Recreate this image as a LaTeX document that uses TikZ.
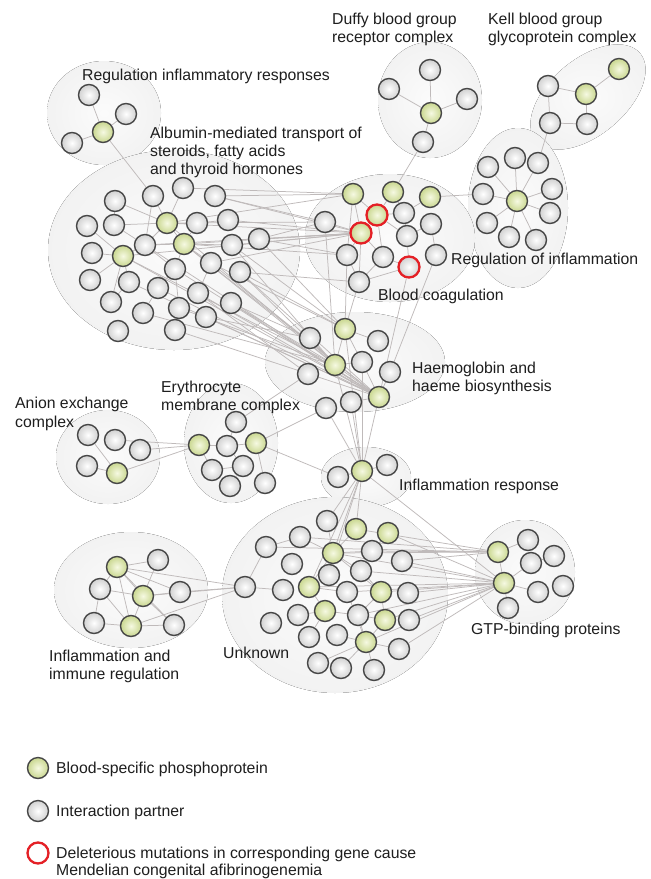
\documentclass[tikz,border=0pt]{standalone}
\usepackage{fontspec}
\setmainfont{Liberation Sans}
\pgfdeclarelayer{blobs}
\pgfdeclarelayer{edges}
\pgfsetlayers{blobs,edges,main}
\definecolor{outl}{HTML}{474747}
\definecolor{edgec}{HTML}{BFBABA}
\definecolor{greenin}{HTML}{F6F9E2}
\definecolor{greenout}{HTML}{C9D78F}
\definecolor{redc}{HTML}{E42026}
\definecolor{txt}{HTML}{1E1E1E}
\tikzset{
 pn/.style={circle, minimum size=21pt, inner sep=0pt, draw=outl, line width=1.4pt, inner color=white, outer color=gray!36},
 gn/.style={pn, inner color=greenin, outer color=greenout},
 rn/.style={draw=redc, line width=2.3pt},
 edge/.style={draw=edgec, line width=0.75pt},
 blob/.style={inner color=gray!3, outer color=gray!10},
 lab/.style={anchor=base west, inner sep=0pt, text=txt, font=\fontsize{15.8}{18}\selectfont},
}
\begin{document}
\begin{tikzpicture}[x=1pt,y=-1pt]
\useasboundingbox (0,0) rectangle (651,879);
% ---------- background and blobs
\begin{pgfonlayer}{blobs}
\fill[white] (0,0) rectangle (651,879);
\fill[blob] (104,113) ellipse [x radius=57pt, y radius=52pt];
\fill[blob] (174,250) ellipse [x radius=126pt, y radius=100pt];
\fill[blob] (430,100) ellipse [x radius=52pt, y radius=58pt];
\fill[blob, rotate around={40:(588,97)}] (588,97) ellipse [x radius=68pt, y radius=38pt];
\fill[blob] (518,208) ellipse [x radius=50pt, y radius=80pt];
\fill[blob] (390,238) ellipse [x radius=85pt, y radius=64pt];
\fill[blob] (355,362) ellipse [x radius=90pt, y radius=50pt];
\fill[blob] (108,457) ellipse [x radius=52pt, y radius=47pt];
\fill[blob] (231,443) ellipse [x radius=47pt, y radius=60pt];
\fill[blob] (366,477) ellipse [x radius=45pt, y radius=30pt];
\fill[blob] (131,590) ellipse [x radius=77pt, y radius=58pt];
\fill[blob] (335,595) ellipse [x radius=113pt, y radius=98pt];
\fill[blob] (525,572) ellipse [x radius=50pt, y radius=52pt];
\end{pgfonlayer}
% ---------- Regulation inflammatory responses
\node[pn] (r1) at (89,95) {};
\node[pn] (r2) at (126,114) {};
\node[gn] (rg) at (103,132) {};
\node[pn] (r3) at (72,143) {};
% ---------- Duffy
\node[pn] (d1) at (430,70) {};
\node[pn] (d2) at (389,89) {};
\node[pn] (d3) at (467,99) {};
\node[gn] (dg) at (431,113) {};
\node[pn] (d4) at (423,142) {};
% ---------- Kell
\node[gn] (kg1) at (619,69) {};
\node[pn] (k1) at (548,86) {};
\node[gn] (kg2) at (586,94) {};
\node[pn] (k2) at (550,123) {};
\node[pn] (k3) at (587,124) {};
% ---------- Regulation of inflammation
\node[pn] (i1) at (488,167) {};
\node[pn] (i2) at (515,158) {};
\node[pn] (i3) at (538,163) {};
\node[pn] (i4) at (552,189) {};
\node[pn] (i5) at (483,194) {};
\node[gn] (ig) at (517,201) {};
\node[pn] (i6) at (550,213) {};
\node[pn] (i7) at (487,223) {};
\node[pn] (i8) at (509,237) {};
\node[pn] (i9) at (536,240) {};
% ---------- Blood coagulation
\node[gn] (bg1) at (353,194) {};
\node[gn] (bg2) at (393,192) {};
\node[gn] (bg3) at (430,197) {};
\node[gn,rn] (br1) at (377,215) {};
\node[gn,rn] (br2) at (361,233) {};
\node[pn] (b1) at (325,222) {};
\node[pn] (b2) at (404,213) {};
\node[pn] (b3) at (431,224) {};
\node[pn] (b4) at (407,236) {};
\node[pn] (b5) at (347,255) {};
\node[pn] (b6) at (383,257) {};
\node[pn,rn] (bR) at (409,267) {};
\node[pn] (b7) at (436,255) {};
\node[pn] (b8) at (359,282) {};
% ---------- Haemoglobin
\node[gn] (hg1) at (345,329) {};
\node[pn] (h1) at (310,338) {};
\node[pn] (h2) at (378,341) {};
\node[gn] (hg2) at (335,365) {};
\node[pn] (h3) at (362,362) {};
\node[pn] (h4) at (390,372) {};
\node[pn] (h5) at (308,374) {};
\node[gn] (hg3) at (379,397) {};
\node[pn] (h6) at (351,402) {};
\node[pn] (h7) at (326,408) {};
% ---------- Albumin
\node[pn] (a1) at (115,201) {};
\node[pn] (a2) at (153,196) {};
\node[pn] (a3) at (183,188) {};
\node[pn] (a4) at (215,196) {};
\node[pn] (a5) at (87,226) {};
\node[pn] (a6) at (114,225) {};
\node[gn] (ag1) at (167,223) {};
\node[pn] (a7) at (197,223) {};
\node[pn] (a8) at (228,220) {};
\node[pn] (a9) at (92,253) {};
\node[gn] (ag2) at (123,256) {};
\node[pn] (a10) at (145,245) {};
\node[gn] (ag3) at (184,244) {};
\node[pn] (a11) at (232,245) {};
\node[pn] (a12) at (259,239) {};
\node[pn] (a13) at (90,280) {};
\node[pn] (a14) at (129,282) {};
\node[pn] (a15) at (175,269) {};
\node[pn] (a16) at (211,263) {};
\node[pn] (a17) at (240,272) {};
\node[pn] (a18) at (111,302) {};
\node[pn] (a19) at (158,288) {};
\node[pn] (a20) at (198,293) {};
\node[pn] (a21) at (231,303) {};
\node[pn] (a22) at (143,313) {};
\node[pn] (a23) at (179,308) {};
\node[pn] (a24) at (206,317) {};
\node[pn] (a25) at (118,331) {};
\node[pn] (a26) at (175,330) {};
% ---------- Anion exchange
\node[pn] (x1) at (88,435) {};
\node[pn] (x2) at (115,440) {};
\node[pn] (x3) at (140,450) {};
\node[pn] (x4) at (87,466) {};
\node[gn] (xg) at (117,473) {};
% ---------- Erythrocyte membrane
\node[pn] (e1) at (236,422) {};
\node[gn] (eg1) at (199,445) {};
\node[pn] (e2) at (227,446) {};
\node[gn] (eg2) at (256,443) {};
\node[pn] (e3) at (212,470) {};
\node[pn] (e4) at (243,466) {};
\node[pn] (e5) at (230,486) {};
\node[pn] (e6) at (265,483) {};
% ---------- Inflammation response
\node[pn] (ir1) at (338,477) {};
\node[gn] (irg) at (362,471) {};
\node[pn] (ir2) at (387,465) {};
% ---------- Inflammation and immune regulation
\node[gn] (mg1) at (117,567) {};
\node[pn] (m1) at (158,560) {};
\node[pn] (m2) at (100,589) {};
\node[gn] (mg2) at (143,596) {};
\node[pn] (m3) at (180,592) {};
\node[pn] (m4) at (94,623) {};
\node[gn] (mg3) at (131,626) {};
\node[pn] (m5) at (174,625) {};
% ---------- Unknown
\node[pn] (u0) at (245,587) {};
\node[pn] (u1) at (327,521) {};
\node[gn] (ug1) at (356,529) {};
\node[gn] (ug2) at (388,533) {};
\node[pn] (u2) at (300,537) {};
\node[pn] (u3) at (266,547) {};
\node[gn] (ug3) at (333,553) {};
\node[pn] (u4) at (372,551) {};
\node[pn] (u5) at (402,561) {};
\node[pn] (u6) at (292,564) {};
\node[pn] (u7) at (329,575) {};
\node[pn] (u8) at (361,571) {};
\node[pn] (u9) at (283,590) {};
\node[gn] (ug4) at (309,587) {};
\node[pn] (u10) at (347,592) {};
\node[gn] (ug5) at (381,592) {};
\node[pn] (u11) at (408,593) {};
\node[pn] (u12) at (298,615) {};
\node[gn] (ug6) at (325,611) {};
\node[pn] (u13) at (358,615) {};
\node[gn] (ug7) at (385,620) {};
\node[pn] (u14) at (409,620) {};
\node[pn] (u15) at (271,623) {};
\node[pn] (u16) at (309,637) {};
\node[pn] (u17) at (337,635) {};
\node[gn] (ug8) at (366,642) {};
\node[pn] (u18) at (399,649) {};
\node[pn] (u19) at (318,663) {};
\node[pn] (u20) at (341,668) {};
\node[pn] (u21) at (374,670) {};
% ---------- GTP-binding proteins
\node[gn] (tg1) at (498,552) {};
\node[pn] (t1) at (528,540) {};
\node[pn] (t2) at (554,556) {};
\node[pn] (t3) at (531,563) {};
\node[gn] (tg2) at (504,583) {};
\node[pn] (t4) at (538,592) {};
\node[pn] (t5) at (563,586) {};
\node[pn] (t6) at (508,608) {};
% ---------- edges
\begin{pgfonlayer}{edges}
\foreach \a/\b in {rg/r1,rg/r2,rg/r3,rg/a2,
 dg/d1,dg/d2,dg/d3,dg/d4,d4/bg2,
 kg2/kg1,k1/kg2,k1/k2,k2/k3,kg2/k3,k2/i3,
 ig/i1,ig/i2,ig/i3,ig/i4,ig/i5,ig/i6,ig/i7,ig/i8,ig/i9,i5/bg3,
 bg1/br2,bg1/br1,bg2/br1,bg2/b2,bg3/b2,b2/br1,b2/b4,b4/br1,b4/b3,b3/b7,b4/bR,b6/bR,
 br2/b5,br2/b6,br1/b6,b5/b8,b6/b8,b8/bR,b1/br2,bg1/b5,br2/b8,
 b8/hg1,bR/hg3,b7/h4,b5/hg1,b1/hg2,
 hg1/h3,hg1/hg2,hg1/h2,hg2/h3,h3/hg3,hg2/hg3,h1/hg2,h6/hg3,h4/hg3,
 e1/h5,eg2/h7,
 hg2/irg,hg1/irg,h6/irg,h7/irg,hg3/irg,h3/irg,
 ir1/irg,irg/ir2,eg2/ir1,
 irg/u1,irg/ug1,irg/ug3,irg/ug4,irg/u7,irg/tg2,
 x1/xg,x4/xg,x3/eg1,xg/eg1,x2/eg1,
 eg1/e2,e2/eg2,eg1/e3,e2/e1,e4/e2,eg2/e6,e3/e4,e4/e5,
 mg1/m1,mg1/m2,mg1/mg2,mg1/mg3,mg1/m3,mg1/m5,m2/m4,m4/mg3,mg3/mg2,mg3/m5,mg2/m3,mg2/m5,
 m1/mg2,m2/mg3,m2/mg2,mg1/u0,mg2/u0,mg3/u0,m3/u0,
 u3/u0,u0/u9,u2/ug3,ug3/u1,ug3/ug1,ug3/u4,ug3/u7,ug3/u8,ug3/ug5,ug4/ug6,ug4/u10,ug6/u12,
 ug6/u13,ug6/u16,ug5/ug7,ug7/u13,ug8/u17,ug8/u20,ug8/u21,ug8/u18,ug8/ug7,u19/ug8,ug4/u7,
 u3/u2,ug2/u4,u8/ug5,ug5/u13,ug8/u13,u10/ug8,ug3/ug4,
 u3/tg1,ug3/tg1,u4/tg1,u5/tg1,ug1/tg1,u2/tg1,ug3/tg2,u8/tg2,ug5/tg2,u11/tg2,ug7/tg2,
 u14/tg2,u18/tg2,ug8/tg2,u10/tg2,ug4/tg2,u13/tg2,ug2/tg2,u5/tg2,
 tg1/t1,tg1/tg2,t3/tg2,tg2/t4,tg2/t6,t3/t2,
 ag1/a2,ag1/a3,ag1/a6,ag1/a10,ag1/ag3,ag1/a7,ag2/a5,ag2/a9,ag2/a10,ag2/a14,ag2/a13,
 ag3/a10,ag3/a15,ag3/a16,ag3/a7,a10/a15,a15/a19,a19/a22,a14/a18,a6/a10,ag1/a1,a2/a10,
 ag2/a18,a15/a23,a16/a20,ag3/a11,a7/a8,a1/a6,
 ag1/br2,ag3/br2,a8/br2,a12/br2,a11/br2,a4/br2,a16/br2,ag1/b1,a4/b1,a12/b1,a3/bg1,
 ag1/bg1,a4/bg1,ag2/hg3,ag3/hg3,a15/hg3,a16/hg3,a17/hg3,a20/hg3,a21/hg3,a24/hg3,
 a19/hg3,a10/hg3,ag1/hg2,ag3/hg2,a17/hg2,a11/hg2,a21/hg2,a12/hg1,a11/hg1,a17/hg1,
 a16/hg1,a21/h1,a24/h1,a12/b5,a17/b8,ag2/br2,a10/br2,ag3/b5,ag2/hg2,a14/hg3,a23/hg2,
 a26/hg3,a22/hg2,a20/h5}
 \draw[edge] (\a) -- (\b);
\end{pgfonlayer}
% ---------- labels
\node[lab] (L1) at (82,80) {Regulation inflammatory responses};
\node[lab] (L2a) at (150,138) {Albumin-mediated transport of};
\node[lab] (L2b) at (150,156) {steroids, fatty acids};
\node[lab] (L2c) at (150,174) {and thyroid hormones};
\node[lab] (L3a) at (332,24) {Duffy blood group};
\node[lab] (L3b) at (332,42) {receptor complex};
\node[lab] (L4a) at (488,24) {Kell blood group};
\node[lab] (L4b) at (488,42) {glycoprotein complex};
\node[lab] (L5) at (451,264) {Regulation of inflammation};
\node[lab] (L6) at (378,300) {Blood coagulation};
\node[lab] (L7a) at (412,373) {Haemoglobin and};
\node[lab] (L7b) at (412,391) {haeme biosynthesis};
\node[lab] (L8a) at (15,408) {Anion exchange};
\node[lab] (L8b) at (15,427) {complex};
\node[lab] (L9a) at (161,392) {Erythrocyte};
\node[lab] (L9b) at (161,410) {membrane complex};
\node[lab] (L10) at (399,490) {Inflammation response};
\node[lab] (L11a) at (49,661) {Inflammation and};
\node[lab] (L11b) at (49,679) {immune regulation};
\node[lab] (L12) at (223,658) {Unknown};
\node[lab] (L13) at (471,634) {GTP-binding proteins};
% ---------- legend
\node[gn] (lg1) at (38,768) {};
\node[pn] (lg2) at (38,811) {};
\node[circle, minimum size=21pt, inner sep=0pt, draw=redc, line width=2.3pt, fill=white] (lg3) at (38,853) {};
\node[lab] (lt1) at (56,773) {Blood-specific phosphoprotein};
\node[lab] (lt2) at (56,816) {Interaction partner};
\node[lab] (lt3a) at (56,858) {Deleterious mutations in corresponding gene cause};
\node[lab] (lt3b) at (56,875) {Mendelian congenital afibrinogenemia};
\end{tikzpicture}
\end{document}
